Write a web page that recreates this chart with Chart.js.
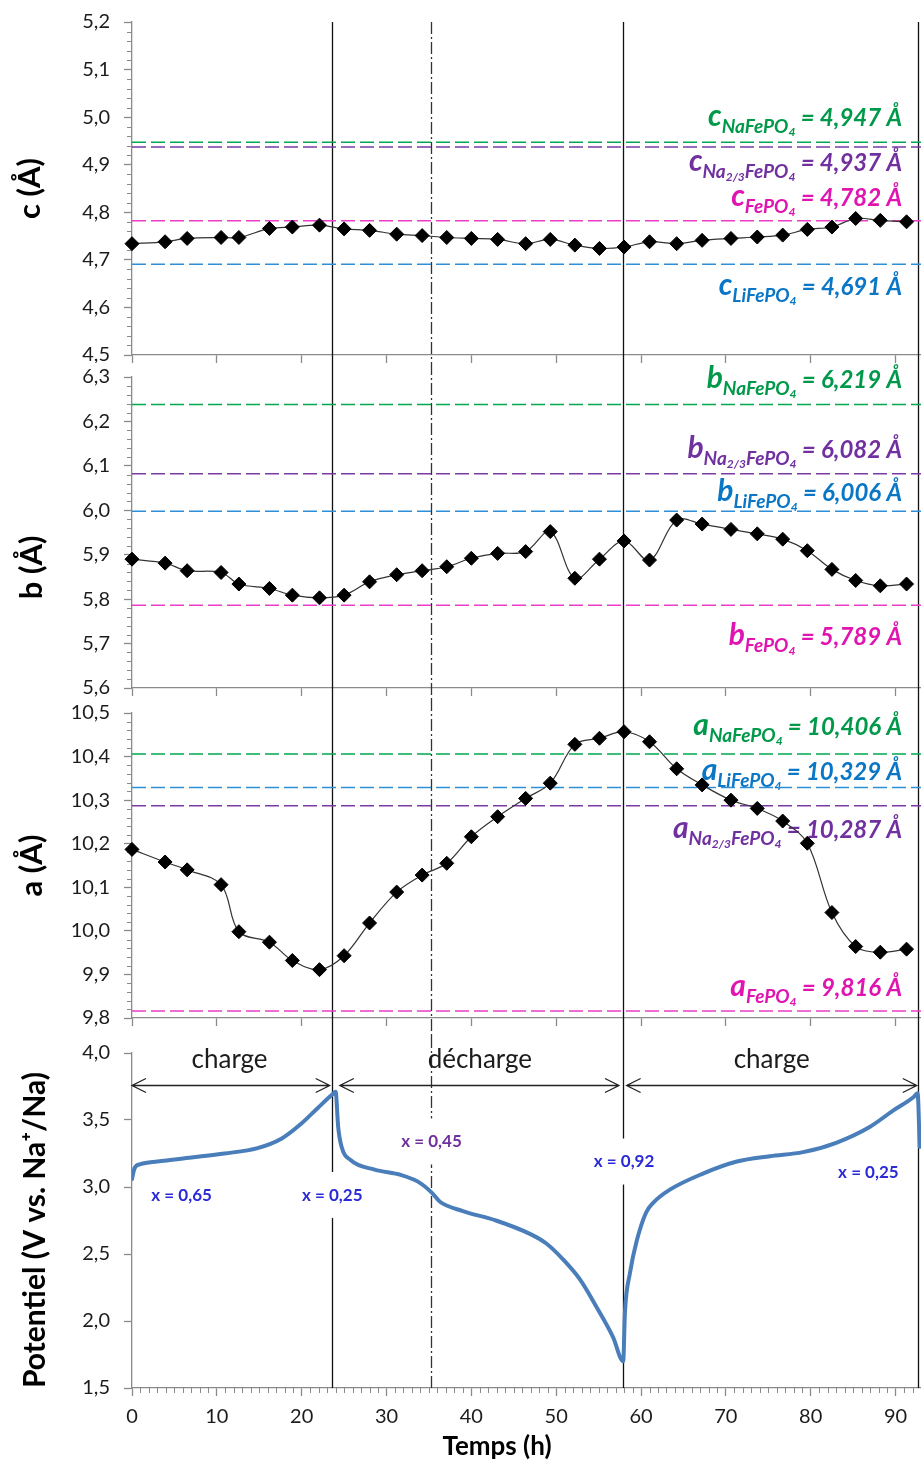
<!DOCTYPE html>
<html>
<head>
<meta charset="utf-8">
<script src="https://cdn.jsdelivr.net/npm/chart.js@4.4.1/dist/chart.umd.min.js"></script>
<style>
  html, body { margin: 0; padding: 0; background: #fff; }
  #wrap { width: 921px; height: 1463px; }
  canvas { display: block; }
</style>
</head>
<body>
<div id="wrap">
  <canvas id="cChart" width="921" height="363"></canvas>
  <canvas id="bChart" width="921" height="336"></canvas>
  <canvas id="aChart" width="921" height="337"></canvas>
  <canvas id="vChart" width="921" height="427"></canvas>
</div>
<script>
// lattice parameters measured during cycling (h)
const times = [0, 3.9, 6.5, 10.5, 12.6, 16.2, 18.9, 22.1, 25.0, 28.0, 31.2, 34.2, 37.1, 40.0, 43.1, 46.4, 49.3, 52.2, 55.1, 58.0, 61.0, 64.2, 67.2, 70.6, 73.7, 76.7, 79.6, 82.5, 85.3, 88.2, 91.3];
const cValues = [4.734, 4.738, 4.745, 4.747, 4.747, 4.766, 4.769, 4.773, 4.765, 4.762, 4.754, 4.751, 4.747, 4.745, 4.743, 4.734, 4.743, 4.731, 4.724, 4.727, 4.738, 4.734, 4.741, 4.745, 4.748, 4.752, 4.764, 4.769, 4.787, 4.783, 4.780];
const bValues = [5.890, 5.881, 5.864, 5.860, 5.834, 5.824, 5.809, 5.803, 5.809, 5.839, 5.855, 5.864, 5.873, 5.892, 5.903, 5.907, 5.952, 5.847, 5.890, 5.931, 5.888, 5.978, 5.969, 5.957, 5.947, 5.935, 5.909, 5.867, 5.842, 5.830, 5.834];
const aValues = [10.187, 10.158, 10.140, 10.106, 9.998, 9.974, 9.932, 9.911, 9.943, 10.018, 10.089, 10.128, 10.155, 10.216, 10.262, 10.304, 10.339, 10.428, 10.442, 10.457, 10.434, 10.372, 10.335, 10.300, 10.281, 10.252, 10.201, 10.042, 9.964, 9.951, 9.958];

// electrochemical curve
const potTimes = [0, 0.3, 1.0, 3.0, 7.0, 10.9, 14.8, 17.6, 19.9, 21.9, 23.6, 24.0, 24.3, 24.7, 25.8, 28.6, 31.7, 33.7, 35.3, 36.3, 39.0, 42.9, 46.9, 48.8, 50.8, 52.8, 54.7, 56.7, 57.9, 58.1, 58.7, 59.5, 60.6, 61.4, 63.4, 67.3, 71.3, 75.2, 79.1, 83.0, 87.0, 89.7, 92.1, 92.6, 92.85];
const potValues = [3.06, 3.14, 3.17, 3.19, 3.22, 3.25, 3.29, 3.36, 3.47, 3.59, 3.69, 3.71, 3.45, 3.30, 3.20, 3.13, 3.09, 3.04, 2.96, 2.89, 2.82, 2.75, 2.65, 2.58, 2.46, 2.31, 2.11, 1.88, 1.70, 2.06, 2.36, 2.60, 2.81, 2.88, 2.98, 3.10, 3.19, 3.23, 3.26, 3.33, 3.45, 3.57, 3.67, 3.70, 3.30];

// reference phases: NaFePO4, Na2/3FePO4, FePO4, LiFePO4
const phases = ['NaFePO4', 'Na2/3FePO4', 'FePO4', 'LiFePO4'];
const cRefValues = [4.947, 4.937, 4.782, 4.691];
const bRefValues = [6.219, 6.082, 5.789, 6.006];
const bRefLines = [6.238, 6.082, 5.786, 5.998];
const aRefValues = [10.406, 10.287, 9.816, 10.329];

const switchTimes = [23.55, 35.2, 57.9, 92.6];
const switchStyles = ['solid', 'dashdot', 'solid', 'solid'];
const steps = ['charge', 'décharge', 'charge'];
const stepBounds = [[0, 23.3], [24.5, 57.4], [58.3, 92.5]];
const compositions = ['x = 0,65', 'x = 0,25', 'x = 0,45', 'x = 0,92', 'x = 0,25'];

const FONT = 'Lato, "Open Sans", "DejaVu Sans", sans-serif';
const AXIS_GREY = '#8a8a8a';
const TICK_TEXT = '#1c1c1c';
const X_MAX = 93;
const lineColors = ['#00a84f', '#7a3aa6', '#ec3dc8', '#2e8fd6'];
const textColors = ['#00994a', '#7030a0', '#e014b0', '#0a76c6'];

function fmt(v, d) { return v.toFixed(d).replace('.', ','); }
function xy(xs, ys) { return xs.map((x, i) => ({ x: x, y: ys[i] })); }

function drawPhaseLabel(ctx, right, yMid, letter, phase, valueText, color) {
  const runs = [{ text: letter, font: 'italic bold 30px ' + FONT, dy: 0 }];
  phase.match(/\d[\d\/]*|\D+/g).forEach(part => {
    const small = /^\d/.test(part);
    runs.push({ text: part, font: 'italic bold ' + (small ? 12 : 19) + 'px ' + FONT, dy: small ? 10 : 7 });
  });
  runs.push({ text: ' = ' + valueText + ' Å', font: 'italic bold 24px ' + FONT, dy: 0 });
  let total = 0;
  runs.forEach(r => { ctx.font = r.font; r.w = ctx.measureText(r.text).width; total += r.w; });
  let px = right - total;
  const base = yMid + 8;
  ctx.fillStyle = color;
  ctx.textAlign = 'left';
  ctx.textBaseline = 'alphabetic';
  runs.forEach(r => { ctx.font = r.font; ctx.fillText(r.text, px, base + r.dy); px += r.w; });
}

function drawArrow(ctx, x1, x2, y) {
  ctx.beginPath();
  ctx.moveTo(x1, y); ctx.lineTo(x2, y);
  ctx.moveTo(x1 + 14, y - 7); ctx.lineTo(x1, y); ctx.lineTo(x1 + 14, y + 7);
  ctx.moveTo(x2 - 14, y - 7); ctx.lineTo(x2, y); ctx.lineTo(x2 - 14, y + 7);
  ctx.stroke();
}

function overlay(o) {
  return {
    id: 'overlay',
    beforeDatasetsDraw(chart) {
      const { ctx, chartArea: area, scales: { x, y } } = chart;
      ctx.save();
      // minor tick marks
      ctx.strokeStyle = AXIS_GREY;
      ctx.lineWidth = 1;
      ctx.beginPath();
      if (o.yMinor) {
        const n = Math.round((o.yMax - o.yMin) / o.yMinor);
        const every = Math.round(o.yStep / o.yMinor);
        for (let i = 1; i < n; i++) {
          if (i % every === 0) continue;
          const py = Math.round(y.getPixelForValue(o.yMin + i * o.yMinor)) + 0.5;
          ctx.moveTo(area.left - 5, py); ctx.lineTo(area.left, py);
        }
      }
      if (o.xMinor) {
        for (let t = 1; t < X_MAX; t++) {
          if (t % 10 === 0) continue;
          const px = Math.round(x.getPixelForValue(t)) + 0.5;
          ctx.moveTo(px, area.bottom); ctx.lineTo(px, area.bottom + 5);
        }
      }
      ctx.stroke();

      // vertical step markers run through all panels
      const top = o.first ? area.top : 0;
      const bottom = o.last ? area.bottom : chart.height;
      switchTimes.forEach((t, i) => {
        const px = Math.round(x.getPixelForValue(t)) + 0.5;
        const dd = switchStyles[i] === 'dashdot';
        ctx.setLineDash(dd ? [12, 3, 2, 3] : []);
        ctx.strokeStyle = dd ? '#333' : '#111';
        ctx.lineWidth = 1.3;
        ctx.beginPath(); ctx.moveTo(px, top); ctx.lineTo(px, bottom); ctx.stroke();
      });
      ctx.setLineDash([]);

      // phase reference labels
      if (o.refLabels) {
        o.refLabels.forEach((v, i) => {
          drawPhaseLabel(ctx, area.right - 19, y.getPixelForValue(o.labelAt[i]), o.letter, phases[i], fmt(v, 3), textColors[i]);
        });
      }
      ctx.restore();
    },
    afterDatasetsDraw(chart) {
      if (!o.last) return;
      const { ctx, chartArea: area, scales: { x, y } } = chart;
      ctx.save();
      ctx.strokeStyle = '#222';
      ctx.lineWidth = 1.3;
      const ay = Math.round(y.getPixelForValue(3.76)) + 0.5;
      stepBounds.forEach(b => drawArrow(ctx, x.getPixelForValue(b[0]), x.getPixelForValue(b[1]), ay));

      ctx.fillStyle = '#1c1c1c';
      ctx.font = '26px ' + FONT;
      ctx.textAlign = 'center';
      ctx.textBaseline = 'middle';
      const stepCenters = [11.5, 41.0, 75.4];
      steps.forEach((s, i) => ctx.fillText(s, x.getPixelForValue(stepCenters[i]), y.getPixelForValue(3.95)));

      const compPos = [[5.85, 2.94], [23.6, 2.94], [35.3, 3.34], [58.0, 3.19], [86.8, 3.11]];
      ctx.font = 'bold 17px ' + FONT;
      compositions.forEach((s, i) => {
        const cx = x.getPixelForValue(compPos[i][0]);
        const cy = y.getPixelForValue(compPos[i][1]);
        const w = ctx.measureText(s).width + 6;
        ctx.fillStyle = '#fff';
        ctx.fillRect(cx - w / 2, cy - 23, w, 46);
        ctx.fillStyle = i === 2 ? '#7030a0' : '#2a2ad6';
        ctx.fillText(s, cx, cy);
      });

      ctx.fillStyle = '#000';
      ctx.font = 'bold 26px ' + FONT;
      ctx.fillText('Temps (h)', 497, area.bottom + 59);
      ctx.restore();
    }
  };
}

function makePanel(o) {
  const datasets = [];
  if (o.series) {
    datasets.push({
      data: xy(times, o.series), borderColor: '#333', borderWidth: 1.2, tension: 0.35,
      pointStyle: 'rectRot', pointRadius: 7, pointHoverRadius: 7,
      pointBackgroundColor: '#000', pointBorderColor: '#000', pointBorderWidth: 1,
      clip: 12, order: 0
    });
  }
  if (o.curve) {
    datasets.push({
      data: xy(potTimes, potValues), borderColor: '#4a7ebb', borderWidth: 4, pointRadius: 0,
      cubicInterpolationMode: 'monotone', borderCapStyle: 'round', borderJoinStyle: 'round', order: 0
    });
  }
  (o.refLines || []).forEach((v, i) => {
    datasets.push({
      data: [{ x: 0, y: v }, { x: X_MAX, y: v }], borderColor: lineColors[i], borderWidth: 1.5,
      borderDash: [14, 5], pointRadius: 0, tension: 0, order: 1
    });
  });

  return new Chart(document.getElementById(o.id), {
    type: 'line',
    data: { datasets: datasets },
    options: {
      responsive: false,
      animation: false,
      layout: { autoPadding: false, padding: { top: o.top, right: 0, bottom: 0, left: 0 } },
      plugins: { legend: { display: false }, tooltip: { enabled: false } },
      scales: {
        x: {
          type: 'linear', min: 0, max: X_MAX,
          afterFit: s => { s.height = o.xHeight; s.paddingLeft = 0; s.paddingRight = 0; },
          border: { color: AXIS_GREY, width: 1.3 },
          grid: { drawOnChartArea: false, tickLength: 8, tickColor: AXIS_GREY, tickWidth: 1.3 },
          ticks: {
            display: !!o.last, stepSize: 10, includeBounds: false, padding: 9,
            color: TICK_TEXT, font: { family: FONT, size: 20 }
          }
        },
        y: {
          min: o.yMin, max: o.yMax,
          afterFit: s => { s.width = 132; s.paddingTop = 0; s.paddingBottom = 0; },
          border: { color: AXIS_GREY, width: 1.3 },
          grid: { drawOnChartArea: false, tickLength: 8, tickColor: AXIS_GREY, tickWidth: 1.3 },
          ticks: {
            stepSize: o.yStep, padding: 14, color: TICK_TEXT, font: { family: FONT, size: 20 },
            callback: v => fmt(v, 1)
          },
          title: {
            display: true, text: o.yTitle, color: '#000', align: o.titleAlign || 'center',
            font: { family: FONT, size: o.titleSize || 31, weight: 'bold' }, padding: { top: o.titlePad, bottom: 0 }
          }
        }
      }
    },
    plugins: [overlay(o)]
  });
}

makePanel({ id: 'cChart', first: true, top: 22, xHeight: 8, yMin: 4.5, yMax: 5.2, yStep: 0.1, yMinor: 0.02,
  yTitle: 'c (Å)', titlePad: 11, series: cValues, refLines: cRefValues, refLabels: cRefValues,
  letter: 'c', labelAt: [4.998, 4.903, 4.830, 4.643] });
makePanel({ id: 'bChart', top: 14, xHeight: 11, yMin: 5.6, yMax: 6.3, yStep: 0.1, yMinor: 0.02,
  yTitle: 'b (Å)\u2003\u2003\u2003', titlePad: 13, series: bValues, refLines: bRefLines, refLabels: bRefValues,
  letter: 'b', labelAt: [6.293, 6.135, 5.715, 6.038] });
makePanel({ id: 'aChart', top: 14, xHeight: 18, yMin: 9.8, yMax: 10.5, yStep: 0.1, yMinor: 0.02,
  yTitle: 'a (Å)', titlePad: 13, series: aValues, refLines: aRefValues, refLabels: aRefValues,
  letter: 'a', labelAt: [10.468, 10.232, 9.869, 10.365] });
makePanel({ id: 'vChart', last: true, top: 17, xHeight: 75, yMin: 1.5, yMax: 4.0, yStep: 0.5, xMinor: true,
  yTitle: 'Potentiel (V vs. Na⁺/Na)', titlePad: 17, titleSize: 30, titleAlign: 'start', curve: true });
</script>
</body>
</html>
